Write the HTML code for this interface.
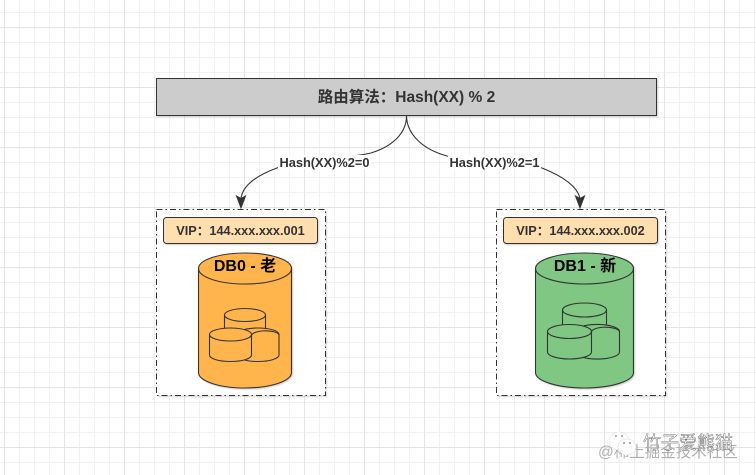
<!DOCTYPE html>
<html><head><meta charset="utf-8">
<style>
html,body{margin:0;padding:0;background:#fff;width:756px;height:475px;overflow:hidden}
svg{display:block}
text{font-family:"Liberation Sans","Noto Sans CJK SC",sans-serif}
</style></head>
<body>
<svg width="756" height="475" viewBox="0 0 756 475" xmlns="http://www.w3.org/2000/svg">
<defs>
<pattern id="g" width="15" height="15" patternUnits="userSpaceOnUse" x="4" y="12">
<path d="M0.5 0V15M0 0.5H15" stroke="#f0f0f0" stroke-width="1" fill="none"/>
</pattern>
<pattern id="G" width="60" height="60" patternUnits="userSpaceOnUse" x="4" y="27">
<path d="M0.5 0V60M0 0.5H60" stroke="#e4e4e4" stroke-width="1" fill="none"/>
</pattern>
<filter id="s" x="-5%" y="-5%" width="110%" height="115%"><feDropShadow dx="1.2" dy="1.2" stdDeviation="0.5" flood-color="#000" flood-opacity="0.16"/></filter>
</defs>
<rect width="756" height="475" fill="#fff"/>
<rect width="756" height="475" fill="url(#g)"/>
<rect width="756" height="475" fill="url(#G)"/>

<!-- top box -->
<rect x="156.500" y="78.500" width="500" height="37" fill="#cccccc" stroke="#333" stroke-width="1" filter="url(#s)"/>
<text x="406.500" y="102" text-anchor="middle" font-size="15.500" font-weight="bold" fill="#333">路由算法：Hash(XX) % 2</text>

<!-- connectors -->
<g fill="none" stroke="#333" stroke-width="1.100">
<path d="M406.500 116C406.500 134 391 147 371 153C340 160 300 158 277 168C255 176 243 186 241 198"/>
<path d="M406.500 116C407 136 425 150 447 156C480 162 520 160 542 168C562 176 577 186 580 198"/>
</g>
<path d="M241 208L236.500 196L241 198.500L245.500 196Z" fill="#333" stroke="#333"/>
<path d="M580 208L575.500 196L580 198.500L584.500 196Z" fill="#333" stroke="#333"/>
<rect x="278" y="155" width="93" height="14" fill="#fff"/>
<rect x="448" y="155" width="93" height="14" fill="#fff"/>
<text x="324.500" y="167" text-anchor="middle" font-size="12.800" font-weight="bold" fill="#333">Hash(XX)%2=0</text>
<text x="494.500" y="167" text-anchor="middle" font-size="12.800" font-weight="bold" fill="#333">Hash(XX)%2=1</text>

<!-- dashed containers -->
<rect x="156.500" y="209.500" width="169" height="186" fill="#fff" stroke="#333" stroke-dasharray="6 3 1.500 3" filter="url(#s)"/>
<rect x="496.500" y="209.500" width="169" height="186" fill="#fff" stroke="#333" stroke-dasharray="6 3 1.500 3" filter="url(#s)"/>

<!-- VIP boxes -->
<rect x="163.500" y="217.500" width="154" height="26" rx="3" fill="#ffdfb0" stroke="#333" filter="url(#s)"/>
<text x="240.500" y="235" text-anchor="middle" font-size="12.700" font-weight="bold" fill="#333">VIP：144.xxx.xxx.001</text>
<rect x="503.500" y="217.500" width="154" height="26" rx="3" fill="#ffdfb0" stroke="#333" filter="url(#s)"/>
<text x="580.500" y="235" text-anchor="middle" font-size="12.700" font-weight="bold" fill="#333">VIP：144.xxx.xxx.002</text>

<!-- DB0 -->
<g stroke="#333" stroke-width="1.100" fill="#ffb54c">
<path d="M198.500 268.500A46.500 15.500 0 0 1 291.500 268.500V372.500A46.500 15.500 0 0 1 198.500 372.500Z" filter="url(#s)"/>
<path d="M198.500 268.500A46.500 15.500 0 0 0 291.500 268.500" fill="none"/>
<path d="M224.500 315V350H265.500V315A20.500 6.500 0 0 0 224.500 315Z"/>
<path d="M224.500 315A20.500 6.500 0 0 0 265.500 315" fill="none"/>
<path d="M237 334.500V355A21 6.500 0 0 0 279 355V334.500A21 6.500 0 0 0 237 334.500Z"/>
<path d="M209.500 334.500V355A21 6.500 0 0 0 251.500 355V334.500A21 6.500 0 0 0 209.500 334.500Z"/>
<path d="M209.500 334.500A21 6.500 0 0 0 251.500 334.500" fill="none"/>
<path d="M251.500 336A14 5 0 0 1 279 334.500" fill="none"/>
</g>
<text x="245" y="271" text-anchor="middle" font-size="16" font-weight="bold" fill="#000">DB0 - 老</text>

<!-- DB1 -->
<g stroke="#333" stroke-width="1.100" fill="#7fc783">
<path d="M535.500 268.500A49 15.500 0 0 1 633.500 268.500V372.500A49 15.500 0 0 1 535.500 372.500Z" filter="url(#s)"/>
<path d="M535.500 268.500A49 15.500 0 0 0 633.500 268.500" fill="none"/>
<path d="M562.500 310V345H606.500V310A22 7 0 0 0 562.500 310Z"/>
<path d="M562.500 310A22 7 0 0 0 606.500 310" fill="none"/>
<path d="M575 331.500V352A22 7 0 0 0 619.500 352V331.500A22 7 0 0 0 575 331.500Z"/>
<path d="M547.500 331.500V352A22 7 0 0 0 591.500 352V331.500A22 7 0 0 0 547.500 331.500Z"/>
<path d="M547.500 331.500A22 7 0 0 0 591.500 331.500" fill="none"/>
<path d="M591.500 333A14 5 0 0 1 619.500 331.500" fill="none"/>
</g>
<text x="585" y="271" text-anchor="middle" font-size="16" font-weight="bold" fill="#000">DB1 - 新</text>

<!-- watermark -->
<text x="598" y="457" font-size="15.500" fill="#b0b0b0">@稀土掘金技术社区</text>
<g fill="#fff" stroke="#d8d8d8" stroke-width="0.500">
<ellipse cx="619" cy="441" rx="10" ry="9"/>
<ellipse cx="627" cy="447" rx="9" ry="8"/>
</g>
<circle cx="616" cy="436" r="1" fill="#999"/><circle cx="622" cy="436" r="1" fill="#999"/>
<circle cx="624" cy="443" r="1" fill="#999"/><circle cx="630" cy="443" r="1" fill="#999"/>
<text x="643" y="449" font-size="18" fill="#fff" stroke="#555" stroke-width="0.400">竹子爱熊猫</text>
</svg>
</body></html>
